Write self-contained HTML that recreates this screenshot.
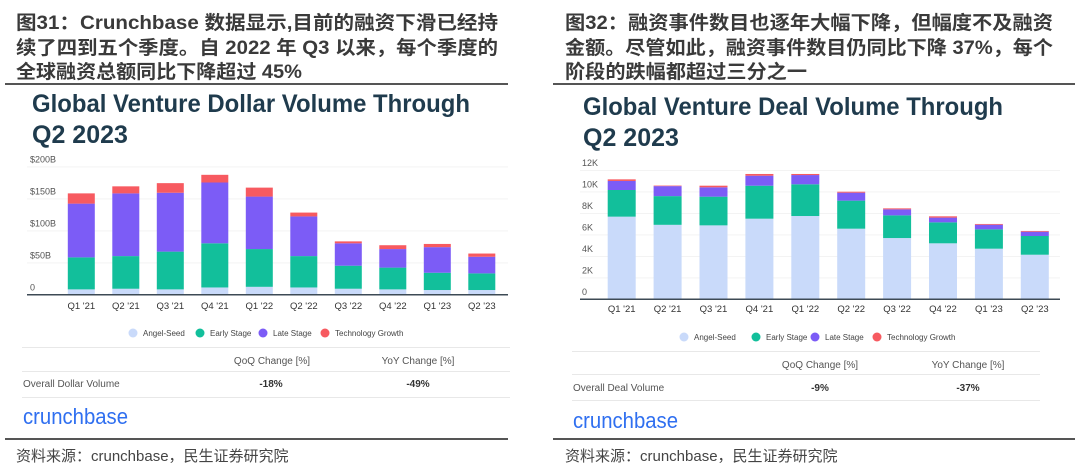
<!DOCTYPE html>
<html><head><meta charset="utf-8">
<style>
html,body{margin:0;padding:0;background:#fff;}
svg{display:block;}
.hd{font-family:"Liberation Sans","Noto Sans CJK SC",sans-serif;font-weight:bold;font-size:19px;fill:#3a3a3a;}
.tt{font-family:"Liberation Sans",sans-serif;font-weight:bold;font-size:25px;fill:#1f3b4d;}
.tk{font-family:"Liberation Sans",sans-serif;font-size:9px;fill:#555;}
.xl{font-family:"Liberation Sans",sans-serif;font-size:9.5px;fill:#333;}
.lg{font-family:"Liberation Sans",sans-serif;font-size:8px;fill:#444;}
.th{font-family:"Liberation Sans",sans-serif;font-size:10px;fill:#555;}
.tv{font-family:"Liberation Sans",sans-serif;font-size:10px;fill:#333;font-weight:bold;}
.lo{font-family:"Liberation Sans",sans-serif;font-size:22px;fill:#2f6ff0;}
.src{font-family:"Liberation Sans","Noto Sans CJK SC",sans-serif;font-size:15px;fill:#444;}
</style></head>
<body>
<svg id="s" width="1080" height="471" viewBox="0 0 1080 471" xmlns="http://www.w3.org/2000/svg">
 <g>
  <text class="hd" x="16" y="29" textLength="482" lengthAdjust="spacingAndGlyphs">图31：Crunchbase  数据显示,目前的融资下滑已经持</text>
  <text class="hd" x="16" y="54" textLength="482" lengthAdjust="spacingAndGlyphs">续了四到五个季度。自 2022 年 Q3 以来，每个季度的</text>
  <text class="hd" x="16" y="78" textLength="286" lengthAdjust="spacingAndGlyphs">全球融资总额同比下降超过 45%</text>
  <rect x="5" y="83" width="503" height="2" fill="#555"/>
 </g>
 <g>
  <text class="hd" x="565" y="29" textLength="488" lengthAdjust="spacingAndGlyphs">图32：融资事件数目也逐年大幅下降，但幅度不及融资</text>
  <text class="hd" x="565" y="54" textLength="488" lengthAdjust="spacingAndGlyphs">金额。尽管如此，融资事件数目仍同比下降 37%，每个</text>
  <text class="hd" x="565" y="78" textLength="242" lengthAdjust="spacingAndGlyphs">阶段的跌幅都超过三分之一</text>
  <rect x="553" y="83" width="522" height="2" fill="#555"/>
 </g>
 <text class="tt" x="32" y="112" textLength="438" lengthAdjust="spacingAndGlyphs">Global Venture Dollar Volume Through</text>
 <text class="tt" x="32" y="143">Q2 2023</text>
 <text class="tt" x="583" y="115" textLength="420" lengthAdjust="spacingAndGlyphs">Global Venture Deal Volume Through</text>
 <text class="tt" x="583" y="146">Q2 2023</text>
 <g id="left"></g>
 <g id="right"></g>

 <g>
  <rect x="22" y="347" width="488" height="1" fill="#e8e8e8"/>
  <text class="th" x="272" y="364" text-anchor="middle">QoQ Change [%]</text>
  <text class="th" x="418" y="364" text-anchor="middle">YoY Change [%]</text>
  <rect x="22" y="371" width="488" height="1" fill="#e8e8e8"/>
  <text class="th" x="23" y="387" fill="#333">Overall Dollar Volume</text>
  <text class="tv" x="271" y="387" text-anchor="middle">-18%</text>
  <text class="tv" x="418" y="387" text-anchor="middle">-49%</text>
  <rect x="22" y="397" width="488" height="1" fill="#e8e8e8"/>
  <text class="lo" x="23" y="424" textLength="105" lengthAdjust="spacingAndGlyphs">crunchbase</text>
 </g>
 <g>
  <rect x="572" y="351" width="468" height="1" fill="#e8e8e8"/>
  <text class="th" x="820" y="368" text-anchor="middle">QoQ Change [%]</text>
  <text class="th" x="968" y="368" text-anchor="middle">YoY Change [%]</text>
  <rect x="572" y="374" width="468" height="1" fill="#e8e8e8"/>
  <text class="th" x="573" y="391" fill="#333">Overall Deal Volume</text>
  <text class="tv" x="820" y="391" text-anchor="middle">-9%</text>
  <text class="tv" x="968" y="391" text-anchor="middle">-37%</text>
  <rect x="572" y="400" width="468" height="1" fill="#e8e8e8"/>
  <text class="lo" x="573" y="428" textLength="105" lengthAdjust="spacingAndGlyphs">crunchbase</text>
 </g>
 <rect x="5" y="438" width="503" height="2" fill="#555"/>
 <rect x="553" y="438" width="522" height="2" fill="#555"/>
 <text class="src" x="16" y="461">资料来源：crunchbase，民生证券研究院</text>
 <text class="src" x="565" y="461">资料来源：crunchbase，民生证券研究院</text>
</svg>
<script>
const categories = ["Q1 '21","Q2 '21","Q3 '21","Q4 '21","Q1 '22","Q2 '22","Q3 '22","Q4 '22","Q1 '23","Q2 '23"];
const seriesNames = ["Angel-Seed","Early Stage","Late Stage","Technology Growth"];
const dollarAngel = [8,9,8,11,12,11,9,8,7,7];
const dollarEarly = [50,51,59,69,59,49,36,34,27,26];
const dollarLate = [84,98,92,95,82,62,35,29,40,26];
const dollarTech = [16,11,15,12,14,6,3,6,5,5];
const dollarTicks = [0,50,100,150,200];
const dollarTickLabels = ["0","$50B","$100B","$150B","$200B"];
const dealAngel = [7.66,6.9,6.85,7.47,7.72,6.54,5.67,5.18,4.68,4.12];
const dealEarly = [2.48,2.67,2.67,3.07,2.95,2.61,2.11,1.95,1.8,1.74];
const dealLate = [0.84,0.93,0.87,0.93,0.86,0.74,0.56,0.44,0.43,0.4];
const dealTech = [0.15,0.05,0.15,0.16,0.1,0.09,0.09,0.12,0.07,0.07];
const dealTicks = [0,2,4,6,8,10,12];
const dealTickLabels = ["0","2K","4K","6K","8K","10K","12K"];
const colors = ["#c9dafa","#12bf9b","#7c5cf6","#f75a60"];
const NS = "http://www.w3.org/2000/svg";
function mk(parent, tag, attrs){const e=document.createElementNS(NS,tag);for(const k in attrs)e.setAttribute(k,attrs[k]);parent.appendChild(e);return e;}
function draw(g, cfg, series, ticks, tickLabels){
  const y = v => cfg.y0 - v*cfg.pxPer;
  const x = i => cfg.x0 + i*cfg.step;
  ticks.forEach((t,i)=>{
    if(t>0){const l=mk(g,'rect',{x:cfg.gx0,y:y(t),width:cfg.gx1-cfg.gx0,height:0.8,fill:'#f0f0f0'});
    
    }
    const tx=mk(g,'text',{class:'tk',x:cfg.lx,y:y(t)-4});
    tx.textContent=tickLabels[i];
    
    
  });
  categories.forEach((c,i)=>{
    let acc=0;
    series.forEach((s,k)=>{
      const v=s[i];
      const r=mk(g,'rect',{x:x(i)-cfg.bw/2,y:y(acc+v),width:cfg.bw,height:v*cfg.pxPer,fill:colors[k]});
      
      
      acc+=v;
    });
    const t=mk(g,'text',{class:'xl',x:x(i),y:cfg.xly,'text-anchor':'middle'});
    t.textContent=c;
    
    
  });
  const ax=mk(g,'rect',{x:cfg.gx0,y:cfg.y0-0.5,width:cfg.gx1-cfg.gx0,height:1.5,fill:'#3d4a55'});
  
  
  seriesNames.forEach((n,k)=>{
    const c=mk(g,'circle',{cx:cfg.lgx[k],cy:cfg.lgy,r:4.5,fill:colors[k]});
    
    
    const t=mk(g,'text',{class:'lg',x:cfg.lgx[k]+10,y:cfg.lgy+3});
    t.textContent=n;
    
    
  });
}
draw(document.getElementById('left'),
 {y0:294.5,pxPer:0.64,x0:81.3,step:44.5,bw:27,gx0:27,gx1:508,lx:30,xly:309,lgy:333,lgx:[133,200,263,325]},
 [dollarAngel,dollarEarly,dollarLate,dollarTech],dollarTicks,dollarTickLabels);
draw(document.getElementById('right'),
 {y0:299,pxPer:10.75,x0:621.7,step:45.9,bw:28,gx0:580,gx1:1060,lx:582,xly:312,lgy:337,lgx:[684,756,815,877]},
 [dealAngel,dealEarly,dealLate,dealTech],dealTicks,dealTickLabels);
</script>
</body></html>
